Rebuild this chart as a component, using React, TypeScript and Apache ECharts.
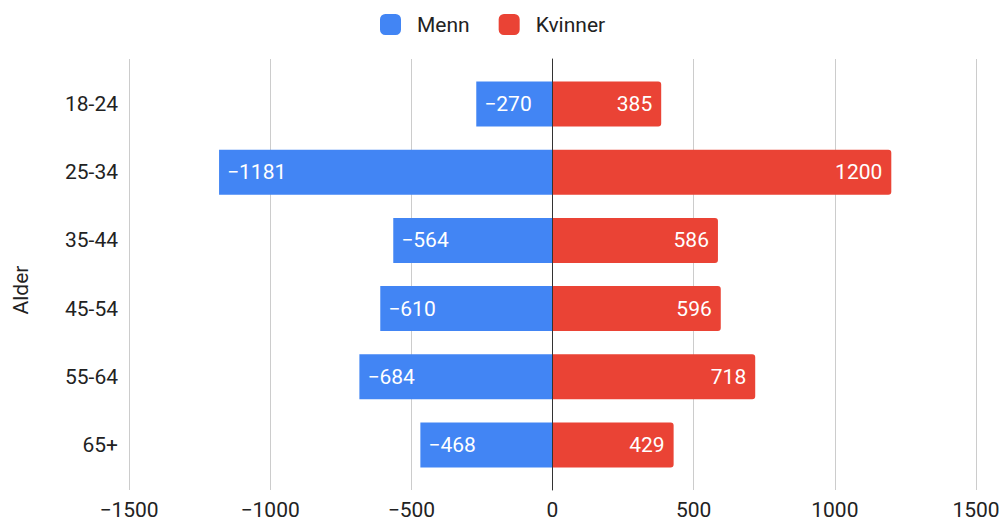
import React, { useEffect, useRef } from "react";
import * as echarts from "echarts";

// Age groups, top to bottom
const categories = ["18-24", "25-34", "35-44", "45-54", "55-64", "65+"];
// Men are plotted to the left of zero, women to the right
const menn = [-270, -1181, -564, -610, -684, -468];
const kvinner = [385, 1200, 586, 596, 718, 429];

const xMin = -1500;
const xMax = 1500;
const xStep = 500;

const FONT = "Roboto, Arial, sans-serif";
const TEXT = "#222222";
const BLUE = "#4285F4";
const RED = "#EA4335";

const minus = (v: number | string) => String(v).replace("-", "\u2212");

export default function App() {
  const ref = useRef<HTMLDivElement>(null);

  useEffect(() => {
    if (!ref.current) return;
    const chart = echarts.init(ref.current, undefined, { renderer: "svg" });

    const option = {
      animation: false,
      backgroundColor: "#ffffff",
      textStyle: { fontFamily: FONT },
      legend: {
        left: 375,
        top: 9,
        icon: "roundRect",
        itemWidth: 21,
        itemHeight: 21,
        itemGap: 29,
        textStyle: { fontSize: 21, color: TEXT, fontFamily: FONT, padding: [0, 0, 0, 11] },
        data: ["Menn", "Kvinner"],
      },
      grid: [
        // frame with gridlines, ticks and the zero line
        { left: 129, right: 27, top: 59, bottom: 32 },
        // bars sit in a slightly inset band
        { left: 129, right: 27, top: 70, bottom: 43 },
      ],
      xAxis: [
        {
          gridIndex: 0,
          type: "value",
          min: xMin,
          max: xMax,
          interval: xStep,
          axisLine: { show: false },
          axisTick: { show: false },
          splitLine: { show: true, lineStyle: { color: "#cccccc", width: 1 } },
          axisLabel: {
            color: TEXT,
            fontSize: 21,
            fontFamily: FONT,
            margin: 9,
            formatter: (v: number) => minus(v),
          },
        },
        {
          gridIndex: 1,
          type: "value",
          min: xMin,
          max: xMax,
          interval: xStep,
          show: false,
          splitLine: { show: false },
        },
      ],
      yAxis: [
        {
          gridIndex: 0,
          type: "category",
          data: categories,
          inverse: true,
          axisLine: { show: true, onZero: true, lineStyle: { color: "#333333", width: 1 } },
          axisTick: { show: false },
          axisLabel: { show: false },
          splitLine: { show: false },
          z: 10,
        },
        {
          gridIndex: 1,
          type: "category",
          data: categories,
          inverse: true,
          axisLine: { show: false },
          axisTick: { show: false },
          splitLine: { show: false },
          axisLabel: { color: TEXT, fontSize: 21, fontFamily: FONT, margin: 11 },
        },
      ],
      graphic: [
        {
          type: "text",
          x: 21,
          y: 290,
          rotation: Math.PI / 2,
          style: {
            text: "Alder",
            fill: TEXT,
            font: `21px ${FONT}`,
            align: "center",
            verticalAlign: "middle",
          },
        },
      ],
      series: [
        {
          name: "Menn",
          type: "bar",
          xAxisIndex: 1,
          yAxisIndex: 1,
          stack: "pop",
          barWidth: 45,
          data: menn,
          itemStyle: { color: BLUE },
          label: {
            show: true,
            position: "insideLeft",
            distance: 8,
            color: "#ffffff",
            fontSize: 21,
            fontFamily: FONT,
            formatter: (p: any) => minus(p.value),
          },
          z: 2,
        },
        {
          name: "Kvinner",
          type: "bar",
          xAxisIndex: 1,
          yAxisIndex: 1,
          stack: "pop",
          barWidth: 45,
          data: kvinner,
          itemStyle: { color: RED, borderRadius: [0, 3, 3, 0] },
          label: {
            show: true,
            position: "insideRight",
            distance: 9,
            color: "#ffffff",
            fontSize: 21,
            fontFamily: FONT,
            formatter: (p: any) => minus(p.value),
          },
          z: 2,
        },
      ],
    };

    chart.setOption(option);
    return () => chart.dispose();
  }, []);

  return (
    <div
      ref={ref}
      style={{ position: "fixed", left: 0, top: 0, width: 1003, height: 522 }}
    />
  );
}
